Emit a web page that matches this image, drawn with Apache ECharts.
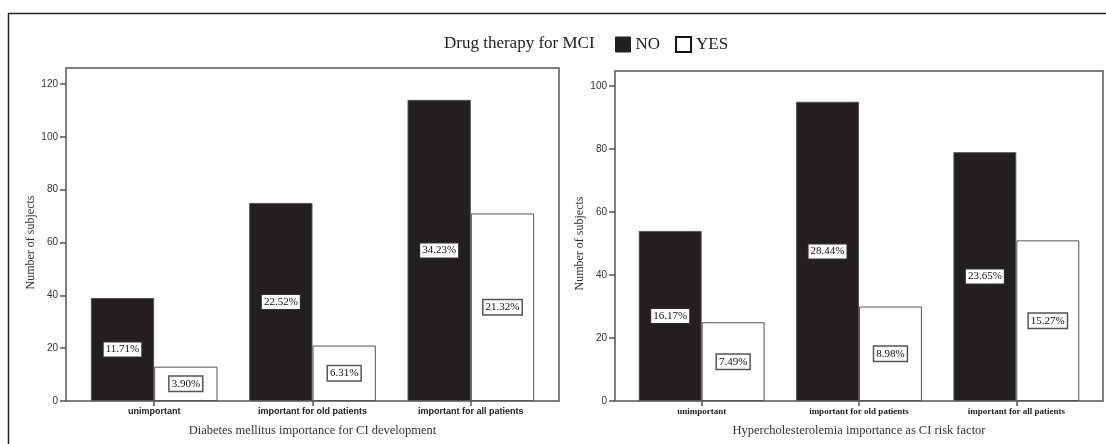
<!DOCTYPE html>
<html>
<head>
<meta charset="utf-8">
<script src="https://cdn.jsdelivr.net/npm/echarts@6/dist/echarts.min.js"></script>
<style>
  html, body { margin: 0; padding: 0; background: #fff; }
  #chart { width: 1106px; height: 444px; }
</style>
</head>
<body>
<div id="chart"></div>
<script>
// categories shared by both panels
var categories = ['unimportant', 'important for old patients', 'important for all patients'];

// left panel: diabetes mellitus
var diabetesNo = [39, 75, 114];
var diabetesYes = [13, 21, 71];

// right panel: hypercholesterolemia
var cholNo = [54, 95, 79];
var cholYes = [25, 30, 51];

var legendNames = ['NO', 'YES'];

var serif = "'Liberation Serif', 'Times New Roman', serif";
var sans = "'Liberation Sans', Arial, sans-serif";
var barDark = '#231f20';
var edge = '#555';

function sum(a) { return a.reduce(function (s, v) { return s + v; }, 0); }
var diabetesTotal = sum(diabetesNo) + sum(diabetesYes);
var cholTotal = sum(cholNo) + sum(cholYes);

function pctLabel(total, border) {
    return {
        show: true,
        position: 'inside',
        formatter: function (p) { return (p.value / total * 100).toFixed(2) + '%'; },
        fontFamily: serif,
        fontSize: 11,
        color: '#111',
        backgroundColor: '#fff',
        borderColor: border,
        borderWidth: border === '#333' ? 1 : 1.5,
        padding: [2, 2, 1, 2]
    };
}

function barSeries(name, data, xi, total, dark) {
    return {
        name: name,
        type: 'bar',
        xAxisIndex: xi,
        yAxisIndex: xi,
        data: data,
        barGap: '0%',
        barCategoryGap: '20%',
        itemStyle: {
            color: dark ? barDark : '#fff',
            borderColor: edge,
            borderWidth: 1
        },
        label: pctLabel(total, dark ? '#333' : '#555'),
        emphasis: { disabled: true }
    };
}

var chart = echarts.init(document.getElementById('chart'));

var option = {
    animation: false,
    backgroundColor: '#fff',
    graphic: [
        { type: 'rect', shape: { x: 8.5, y: 13.5, width: 1120, height: 460 },
          style: { fill: 'none', stroke: '#222', lineWidth: 1.5 }, silent: true },
        { type: 'rect', shape: { x: 66, y: 68, width: 493, height: 333 },
          style: { fill: 'none', stroke: edge, lineWidth: 1.5 }, silent: true, z: 10 },
        { type: 'rect', shape: { x: 615, y: 71, width: 488, height: 330 },
          style: { fill: 'none', stroke: edge, lineWidth: 1.5 }, silent: true, z: 10 },
        { type: 'text', left: 444, top: 35,
          style: { text: 'Drug therapy for MCI', font: '17px ' + serif, fill: '#222' } }
    ],
    legend: {
        left: 615,
        top: 36,
        padding: 0,
        itemWidth: 15,
        itemHeight: 15,
        itemGap: 15,
        icon: 'rect',
        textStyle: { fontFamily: serif, fontSize: 17, color: '#222' },
        data: [
            { name: legendNames[0], itemStyle: { color: barDark, borderColor: barDark, borderWidth: 1 } },
            { name: legendNames[1], itemStyle: { color: '#fff', borderColor: '#111', borderWidth: 2 } }
        ]
    },
    grid: [
        { left: 75, top: 84, width: 475, height: 317 },
        { left: 623, top: 86, width: 472, height: 315 }
    ],
    xAxis: [0, 1].map(function (i) {
        return {
            type: 'category',
            gridIndex: i,
            data: categories,
            axisLine: { show: false },
            axisTick: { show: true, alignWithLabel: true, length: 5, lineStyle: { color: edge, width: 1.5 } },
            axisLabel: {
                margin: 6,
                fontSize: 9,
                color: '#222',
                fontFamily: i === 0 ? sans : serif,
                fontWeight: 'bold'
            },
            name: i === 0 ? 'Diabetes mellitus importance for CI development'
                          : 'Hypercholesterolemia importance as CI risk factor',
            nameLocation: 'middle',
            nameGap: 23,
            nameTextStyle: { fontFamily: serif, fontSize: 12.5, color: '#333' }
        };
    }),
    yAxis: [0, 1].map(function (i) {
        return {
            type: 'value',
            gridIndex: i,
            min: 0,
            max: i === 0 ? 120 : 100,
            interval: 20,
            offset: i === 0 ? 9 : 8,
            splitLine: { show: false },
            axisLine: { show: false },
            axisTick: { show: true, length: 6, lineStyle: { color: edge, width: 1.5 } },
            axisLabel: { margin: 8, fontSize: 10, color: '#333', fontFamily: sans },
            name: 'Number of subjects',
            nameLocation: 'middle',
            nameGap: 29,
            nameTextStyle: { fontFamily: serif, fontSize: 12, color: '#333' }
        };
    }),
    series: [
        barSeries(legendNames[0], diabetesNo, 0, diabetesTotal, true),
        barSeries(legendNames[1], diabetesYes, 0, diabetesTotal, false),
        barSeries(legendNames[0], cholNo, 1, cholTotal, true),
        barSeries(legendNames[1], cholYes, 1, cholTotal, false)
    ]
};

chart.setOption(option);
</script>
</body>
</html>
